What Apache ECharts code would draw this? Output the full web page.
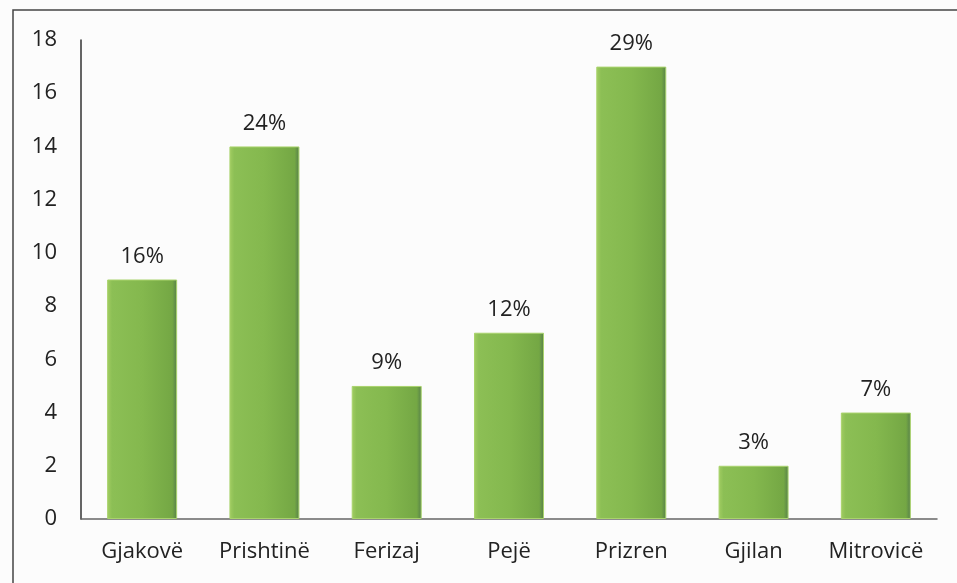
<!DOCTYPE html>
<html>
<head>
<meta charset="utf-8">
<script src="https://cdn.jsdelivr.net/npm/echarts@6/dist/echarts.min.js"></script>
<style>
html,body{margin:0;padding:0;background:#fcfcfc;}
#c{width:957px;height:583px;}
</style>
</head>
<body>
<div id="c"></div>
<script>
var categories = ['Gjakovë', 'Prishtinë', 'Ferizaj', 'Pejë', 'Prizren', 'Gjilan', 'Mitrovicë'];
var values = [9, 14, 5, 7, 17, 2, 4];
var percentLabels = ['16%', '24%', '9%', '12%', '29%', '3%', '7%'];

var chart = echarts.init(document.getElementById('c'));
var font = '"Open Sans", "Noto Sans", sans-serif';
chart.setOption({
  backgroundColor: '#fcfcfc',
  animation: false,
  graphic: [{
    type: 'rect',
    shape: {x: 13, y: 10, width: 950, height: 580},
    style: {fill: 'none', stroke: '#444', lineWidth: 1.5}
  }],
  grid: {left: 81, right: 20, top: 40, bottom: 64},
  xAxis: {
    type: 'category',
    data: categories,
    axisLine: {lineStyle: {color: '#666', width: 1.5}},
    axisTick: {show: false},
    axisLabel: {color: '#222', fontSize: 22, fontFamily: font, margin: 22, interval: 0, hideOverlap: false}
  },
  yAxis: {
    type: 'value',
    min: 0, max: 18, interval: 2,
    splitLine: {show: false},
    axisLine: {show: true, lineStyle: {color: '#333', width: 1.5}},
    axisTick: {show: false},
    axisLabel: {color: '#222', fontSize: 22, fontFamily: font, margin: 24}
  },
  series: [{
    type: 'bar',
    data: values,
    barWidth: 70,
    itemStyle: {
      color: new echarts.graphic.LinearGradient(0, 0, 1, 0, [
        {offset: 0, color: '#a2cd62'},
        {offset: 0.07, color: '#8cbf55'},
        {offset: 0.5, color: '#84b84e'},
        {offset: 0.93, color: '#74a744'},
        {offset: 1, color: '#557f4a'}
      ]),
      borderColor: '#a9d36c',
      borderWidth: 1
    },
    label: {
      show: true,
      position: 'top',
      distance: 12,
      color: '#222',
      fontSize: 22,
      fontFamily: font,
      formatter: function (p) { return percentLabels[p.dataIndex]; }
    }
  }]
});
</script>
</body>
</html>
